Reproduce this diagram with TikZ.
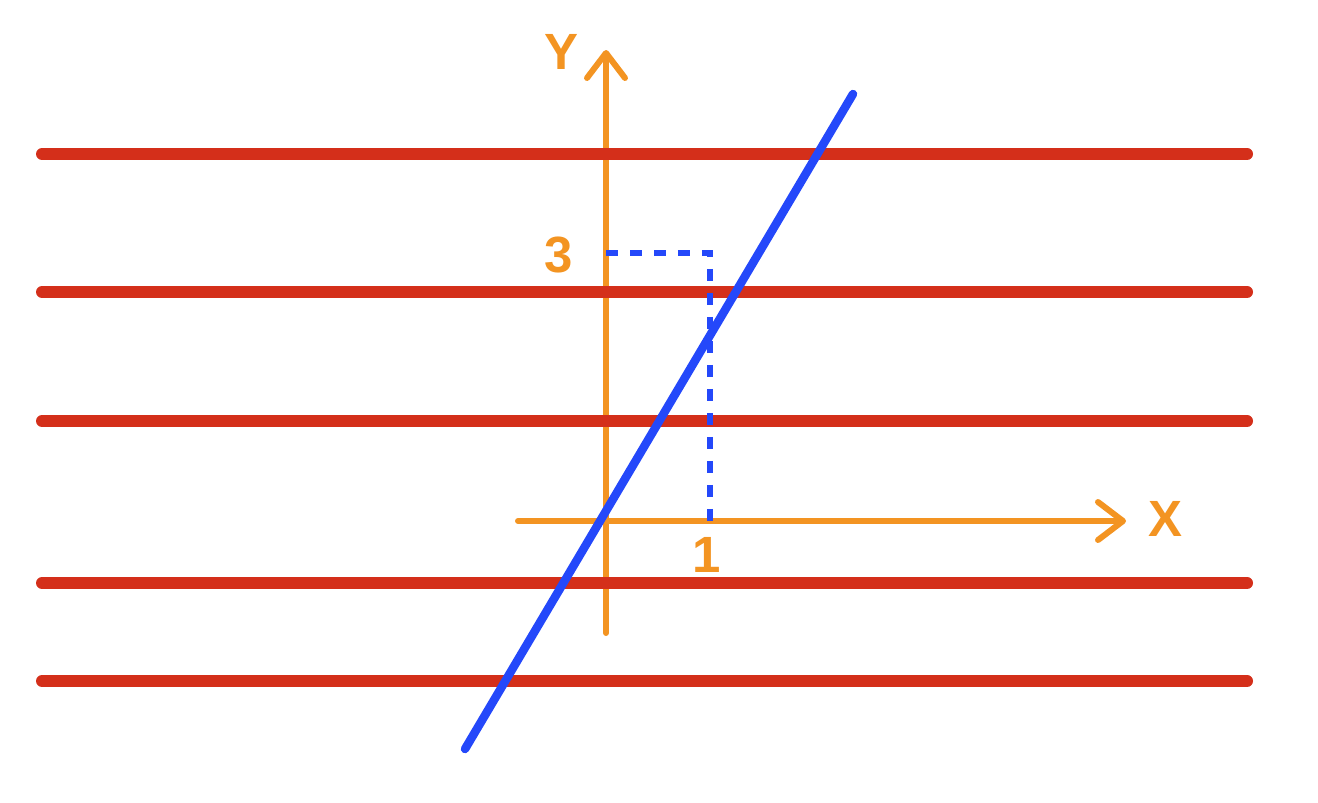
\documentclass[tikz,border=0pt]{standalone}
\usepackage{fontspec}
\setmainfont{Liberation Sans}
\usetikzlibrary{arrows.meta}
\definecolor{axisorange}{RGB}{243,148,34}
\definecolor{linered}{RGB}{212,47,26}
\definecolor{lineblue}{RGB}{36,72,250}
\begin{document}
\begin{tikzpicture}[x=0.02cm,y=-0.02cm,
    axis/.style={axisorange,line width=0.12cm,line cap=round,-{Straight Barb[round,length=0.5cm,width=0.76cm]}},
    lbl/.style={text=axisorange,inner sep=0pt,font=\fontsize{29}{29}\selectfont\bfseries}]
    \useasboundingbox (0,0) rectangle (1318,802);
    \coordinate (xl) at (518,521); \coordinate (xr) at (1126,521);
    \coordinate (yb) at (606,633); \coordinate (yt) at (606,50);
    \draw[axis] (xl)--(xr);
    \draw[axis] (yb)--(yt);
    \node[lbl] (ylab) at (561,52) {Y};
    \node[lbl] (xlab) at (1165,519) {X};
    \node[lbl] (three) at (559,255) {3};
    \node[lbl] (one) at (707,555) {1};
    \foreach \y in {154,292,421,583,681}{
    \draw[linered,line width=0.24cm,line cap=round] (42,\y)--(1247,\y);}
    \draw[lineblue,line width=0.12cm,dash pattern=on 0.24cm off 0.24cm] (606,253)-|(710,521);
    \draw[lineblue,line width=0.17cm,line cap=round] (465,749)--(853,94);
\end{tikzpicture}
\end{document}
